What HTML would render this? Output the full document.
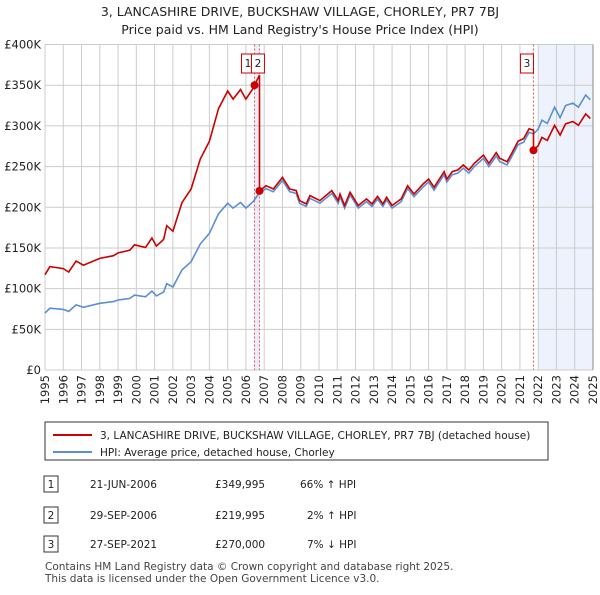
<!DOCTYPE html>
<html><head><meta charset="utf-8"><style>
body{margin:0;background:#fff;width:600px;height:590px;overflow:hidden;font-family:"Liberation Sans",sans-serif}
svg text{font-family:"DejaVu Sans","Liberation Sans",sans-serif}
</style></head><body>
<svg id="c" width="600" height="590" xmlns="http://www.w3.org/2000/svg">
<text x="300" y="16" text-anchor="middle" font-size="12.5" fill="#222">3, LANCASHIRE DRIVE, BUCKSHAW VILLAGE, CHORLEY, PR7 7BJ</text>
<text x="300" y="34" text-anchor="middle" font-size="12.5" fill="#222">Price paid vs. HM Land Registry's House Price Index (HPI)</text>
<g id="plot"></g>
<g>
<rect x="45" y="422" width="503" height="38" fill="#fff" stroke="#333" stroke-width="1"/>
<line x1="53" y1="435" x2="92" y2="435" stroke="#cc0000" stroke-width="2"/>
<text x="100" y="439" font-size="10.5" fill="#222">3, LANCASHIRE DRIVE, BUCKSHAW VILLAGE, CHORLEY, PR7 7BJ (detached house)</text>
<line x1="53" y1="452" x2="92" y2="452" stroke="#5b8fd4" stroke-width="2"/>
<text x="100" y="456" font-size="10.5" fill="#222">HPI: Average price, detached house, Chorley</text>
</g>
<g font-size="10.5" fill="#222">
<rect x="44" y="476" width="14" height="16" fill="#fff" stroke="#333"/><text x="51" y="488" text-anchor="middle">1</text>
<text x="90" y="488">21-JUN-2006</text><text x="215" y="488">£349,995</text><text x="300" y="488">66% ↑ HPI</text>
<rect x="44" y="507" width="14" height="16" fill="#fff" stroke="#333"/><text x="51" y="519" text-anchor="middle">2</text>
<text x="90" y="519">29-SEP-2006</text><text x="215" y="519">£219,995</text><text x="307" y="519">2% ↑ HPI</text>
<rect x="44" y="536" width="14" height="16" fill="#fff" stroke="#333"/><text x="51" y="548" text-anchor="middle">3</text>
<text x="90" y="548">27-SEP-2021</text><text x="215" y="548">£270,000</text><text x="307" y="548">7% ↓ HPI</text>
</g>
<text x="45" y="570" font-size="10.5" fill="#444">Contains HM Land Registry data © Crown copyright and database right 2025.</text>
<text x="45" y="582" font-size="10.5" fill="#444">This data is licensed under the Open Government Licence v3.0.</text>
</svg>
<script>
const hpiYears=[1995.0,1995.27,1996.0,1996.3,1996.7,1997.1,1998.0,1998.75,1999.0,1999.65,1999.9,2000.5,2000.85,2001.1,2001.5,2001.66,2002.0,2002.5,2003.0,2003.5,2004.0,2004.5,2005.0,2005.3,2005.7,2006.0,2006.4,2006.65,2007.1,2007.5,2008.0,2008.4,2008.75,2008.93,2009.3,2009.5,2010.05,2010.7,2011.05,2011.15,2011.4,2011.7,2012.15,2012.6,2012.9,2013.2,2013.5,2013.7,2014.0,2014.5,2014.85,2015.2,2015.7,2016.0,2016.3,2016.85,2017.0,2017.3,2017.6,2017.9,2018.2,2018.5,2019.0,2019.3,2019.7,2019.9,2020.3,2020.5,2020.9,2021.2,2021.5,2021.74,2022.0,2022.2,2022.5,2022.9,2023.2,2023.5,2023.9,2024.2,2024.6,2024.85];
const hpiValues=[70,76,74.5,72,80,77,82,84,86,88,92,90,97,91,96,106,102,123,133,155,168,192,205,199,206,199,207,215,223,219,233,219,217,205,201,211,205,217,205,213,199,215,199,207,201,210,201,209,199,207,223,213,225,231,221,240,231,240,242,248,242,250,260,250,263,256,252,260,277,280,292,290,296,307,303,323,310,325,328,323,338,332];
const saleDates=[2006.47,2006.74,2021.74];
const salePrices=[349995,219995,270000];
const yTicks=[0,50,100,150,200,250,300,350,400];
const yTickLabels=["£0","£50K","£100K","£150K","£200K","£250K","£300K","£350K","£400K"];
const xTicks=[1995,1996,1997,1998,1999,2000,2001,2002,2003,2004,2005,2006,2007,2008,2009,2010,2011,2012,2013,2014,2015,2016,2017,2018,2019,2020,2021,2022,2023,2024,2025];

const L=45,R=593,T=44.5,B=370;
const X=y=>L+(y-1995)/30*(R-L);
const Y=v=>B-v/400*(B-T);
const NS="http://www.w3.org/2000/svg";
const g=document.getElementById('plot');
function mk(t,a){const e=document.createElementNS(NS,t);for(const k in a)e.setAttribute(k,a[k]);g.appendChild(e);return e;}
function hpiAt(t){for(let i=1;i<hpiYears.length;i++){if(t<=hpiYears[i]){const f=(t-hpiYears[i-1])/(hpiYears[i]-hpiYears[i-1]);return hpiValues[i-1]+f*(hpiValues[i]-hpiValues[i-1]);}}return hpiValues[hpiValues.length-1];}
let e=mk('rect',{x:X(saleDates[0]),y:T,width:X(saleDates[1])-X(saleDates[0]),height:B-T,fill:'#e8eefa'});


e=mk('rect',{x:X(2022.0),y:T,width:R-X(2022.0),height:B-T,fill:'#eef2fc'});


yTicks.forEach((v,i)=>{
 let l=mk('line',{x1:L,x2:R,y1:Y(v),y2:Y(v),stroke:'#ccc','stroke-width':1});
 
 
 let t=mk('text',{x:L-4,y:Y(v)+4,'text-anchor':'end','font-size':'11.5',fill:'#222'});
 t.textContent=yTickLabels[i];
 
 
});
xTicks.forEach(yr=>{
 let l=mk('line',{x1:X(yr),x2:X(yr),y1:T,y2:B,stroke:'#ccc','stroke-width':1});
 
 
 let t=mk('text',{x:0,y:0,'text-anchor':'end','font-size':'11.5',fill:'#222',transform:`translate(${X(yr)+4},${B+5}) rotate(-90)`});
 t.textContent=yr;
 
 
});
saleDates.forEach((d,i)=>{
 let l=mk('line',{x1:X(d),x2:X(d),y1:T,y2:B,stroke:'#e55','stroke-width':1,'stroke-dasharray':'2,2'});
 
 
});
let pts=hpiYears.map((yr,i)=>X(yr).toFixed(1)+','+Y(hpiValues[i]).toFixed(1)).join(' ');
e=mk('polyline',{points:pts,fill:'none',stroke:'#5b8fd4','stroke-width':1.6});


const h=saleDates.map(hpiAt);
let rp=[];
function seg(a,b,si){hpiYears.forEach((yr,i)=>{if(yr>=a&&yr<b)rp.push([yr,hpiValues[i]*salePrices[si]/1000/h[si]]);});}
seg(1990,saleDates[0],0);
rp.push([saleDates[0],salePrices[0]/1000]);
rp.push([saleDates[1],hpiAt(saleDates[1])*salePrices[0]/1000/h[0]]);
rp.push([saleDates[1],salePrices[1]/1000]);
seg(saleDates[1],saleDates[2],1);
rp.push([saleDates[2],hpiAt(saleDates[2])*salePrices[1]/1000/h[1]]);
rp.push([saleDates[2],salePrices[2]/1000]);
seg(saleDates[2],2030,2);
e=mk('polyline',{points:rp.map(p=>X(p[0]).toFixed(1)+','+Y(p[1]).toFixed(1)).join(' '),fill:'none',stroke:'#cc0000','stroke-width':1.6});


saleDates.forEach((d,i)=>{
 let c=mk('circle',{cx:X(d),cy:Y(salePrices[i]/1000),r:4,fill:'#cc0000'});
 
 
});
[[0,-9],[1,-4],[2,-9]].forEach(([i,dx])=>{
 const bx=X(saleDates[i])+dx-4;
 let r=mk('rect',{x:bx,y:54,width:13,height:19,fill:'#fff',stroke:'#cc0000','stroke-width':1});
 
 
 let t=mk('text',{x:bx+6.5,y:67,'text-anchor':'middle','font-size':'10.5',fill:'#222'});
 t.textContent=String(i+1);
 
 
});
e=mk('line',{x1:R,x2:R,y1:T,y2:B,stroke:'#888','stroke-width':1});


</script>
</body></html>
